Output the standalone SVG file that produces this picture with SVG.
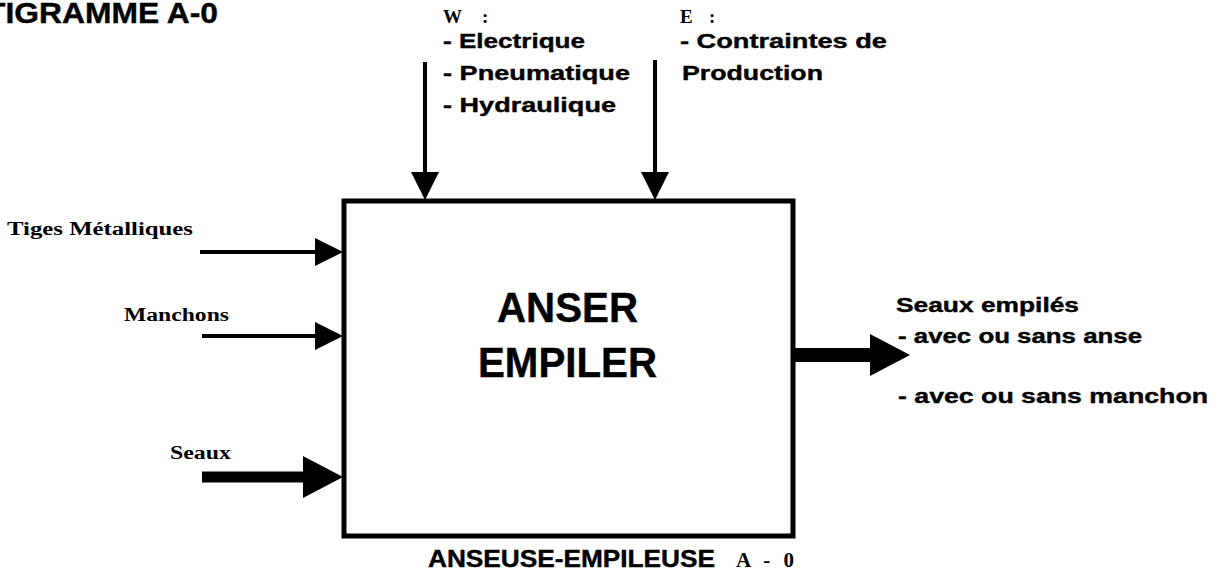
<svg xmlns="http://www.w3.org/2000/svg" width="1219" height="577" viewBox="0 0 1219 577">
<style>
.s{font-family:"Liberation Sans",Arial,sans-serif;font-weight:bold;fill:#000;stroke:#000;stroke-width:0.4}
.r{font-family:"Liberation Serif","Times New Roman",serif;font-weight:bold;fill:#000}
.ln{stroke:#000;fill:none}
</style>
<defs>
<marker id="ah" markerUnits="userSpaceOnUse" viewBox="0 0 28 28" refX="0" refY="14" markerWidth="28" markerHeight="28" orient="auto"><path d="M0,0 L28,14 L0,28 Z" fill="#000"/></marker>
<marker id="ahb" markerUnits="userSpaceOnUse" viewBox="0 0 40 42" refX="0" refY="21" markerWidth="40" markerHeight="42" orient="auto"><path d="M0,0 L40,21 L0,42 Z" fill="#000"/></marker>
</defs>
<rect width="1219" height="577" fill="#fff"/>
<g id="title"><text class="s" x="-14" y="23" font-size="30" textLength="232" lengthAdjust="spacingAndGlyphs">TIGRAMME A-0</text></g>
<g id="box">
<rect x="344" y="201" width="449" height="335" fill="#fff" stroke="#000" stroke-width="5"/>
<text class="s" x="497" y="322" font-size="42" textLength="141" lengthAdjust="spacingAndGlyphs">ANSER</text>
<text class="s" x="478" y="377" font-size="42" textLength="179" lengthAdjust="spacingAndGlyphs">EMPILER</text>
</g>
<g id="caption">
<text class="s" x="428" y="567" font-size="24" textLength="287" lengthAdjust="spacingAndGlyphs">ANSEUSE-EMPILEUSE</text>
<text class="r" x="736" y="567" font-size="21" textLength="58" lengthAdjust="spacing">A - 0</text>
</g>
<g id="w-label">
<text class="r" x="443" y="23" font-size="19">W<tspan x="482">:</tspan></text>
<text class="s" x="443" y="48" font-size="21" textLength="142" lengthAdjust="spacingAndGlyphs">- Electrique</text>
<text class="s" x="443" y="80" font-size="21" textLength="187" lengthAdjust="spacingAndGlyphs">- Pneumatique</text>
<text class="s" x="443" y="112" font-size="21" textLength="173" lengthAdjust="spacingAndGlyphs">- Hydraulique</text>
</g>
<g id="e-label">
<text class="r" x="680" y="23" font-size="19">E<tspan x="709">:</tspan></text>
<text class="s" x="680" y="48" font-size="21" textLength="207" lengthAdjust="spacingAndGlyphs">- Contraintes de</text>
<text class="s" x="682" y="80" font-size="21" textLength="141" lengthAdjust="spacingAndGlyphs">Production</text>
</g>
<g id="in-tiges"><text class="r" x="7" y="235" font-size="18" textLength="186" lengthAdjust="spacingAndGlyphs">Tiges Métalliques</text></g>
<g id="in-manchons"><text class="r" x="124" y="321" font-size="18" textLength="105" lengthAdjust="spacingAndGlyphs">Manchons</text></g>
<g id="in-seaux"><text class="r" x="170" y="459" font-size="18" textLength="61" lengthAdjust="spacingAndGlyphs">Seaux</text></g>
<g id="output">
<text class="s" x="896" y="312" font-size="21" textLength="183" lengthAdjust="spacingAndGlyphs">Seaux empilés</text>
<text class="s" x="898" y="343" font-size="21" textLength="244" lengthAdjust="spacingAndGlyphs">- avec ou sans anse</text>
<text class="s" x="898" y="403" font-size="21" textLength="310" lengthAdjust="spacingAndGlyphs">- avec ou sans manchon</text>
</g>
<g id="connectors">
<line class="ln" x1="425" y1="62" x2="425" y2="172" stroke-width="4" marker-end="url(#ah)"/>
<line class="ln" x1="655" y1="60" x2="655" y2="172" stroke-width="4" marker-end="url(#ah)"/>
<line class="ln" x1="200" y1="252" x2="315" y2="252" stroke-width="4" marker-end="url(#ah)"/>
<line class="ln" x1="202" y1="336" x2="315" y2="336" stroke-width="4" marker-end="url(#ah)"/>
<line class="ln" x1="202" y1="477" x2="303" y2="477" stroke-width="11" marker-end="url(#ahb)"/>
<line class="ln" x1="795" y1="355" x2="870" y2="355" stroke-width="14" marker-end="url(#ahb)"/>
</g>
</svg>
